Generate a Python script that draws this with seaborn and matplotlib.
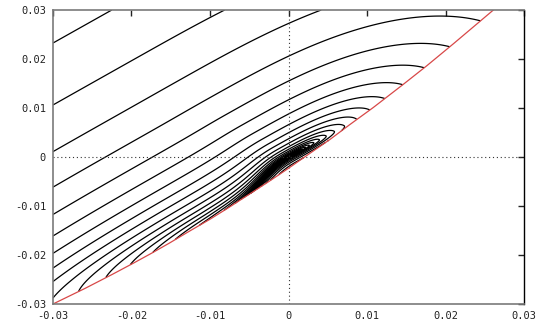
import numpy as np
import matplotlib
matplotlib.use("Agg")
import matplotlib.pyplot as plt
import seaborn as sns

# boundary curve (red)
red_x = [-0.0300, -0.0259, -0.0225, -0.0198, -0.0174, -0.0151, -0.0129, -0.0100,
         -0.0075, -0.0050, -0.0025, 0.0000, 0.0025, 0.0053, 0.0078, 0.0108,
         0.0146, 0.0176, 0.0210, 0.0244, 0.0261]
red_y = [-0.0300, -0.0268, -0.0240, -0.0217, -0.0196, -0.0175, -0.0154, -0.0127,
         -0.0102, -0.0076, -0.0050, -0.0023, 0.0005, 0.0036, 0.0066, 0.0101,
         0.0148, 0.0186, 0.0231, 0.0277, 0.0300]

# contour levels (geometric spacing as seen in the picture)
levels = [0.0204, 0.0273, 0.0364, 0.0486, 0.0649, 0.0866, 0.116, 0.154, 0.206,
          0.275, 0.367, 0.490, 0.654, 0.873, 1.166, 1.556, 2.078, 2.774, 3.703,
          4.944, 6.60, 8.81, 11.76, 15.70, 20.96, 27.98, 37.36]

tick_vals = [-0.03, -0.02, -0.01, 0.0, 0.01, 0.02, 0.03]
tick_labels = ["-0.03", "-0.02", "-0.01", "0", "0.01", "0.02", "0.03"]

# surface shape parameters
axis_slope = 0.9
left_scale, left_pow, left_norm = 29.0, 2.46, 1.5
right_scale, right_pow = 5.8, 1.47
ridge_gap = 1.0
ridge_blend = 8.0
ridge_decay = 5.0
below_factor = 2.0

sns.set_style("white")
plt.rcParams["font.family"] = ["DejaVu Sans Mono", "DejaVu Sans"]

fig = plt.figure(figsize=(5.45, 3.27), dpi=100)
ax = fig.add_axes([53 / 545, 23 / 327, 471 / 545, 294 / 327])

th = np.arctan(axis_slope)
cs, sn = np.cos(th), np.sin(th)


def to_uv(x, y):
    return (x * cs + y * sn) * 1000, (-x * sn + y * cs) * 1000


n = 1400
gx = np.linspace(-0.03, 0.03, n)
X, Y = np.meshgrid(gx, gx)
U, V = to_uv(X, Y)

ru, rv = to_uv(np.array(red_x), np.array(red_y))
order = np.argsort(ru)
v_red = np.interp(U, ru[order], rv[order])
blend = np.where(U < 0, 1 - np.exp(-(U / ridge_blend) ** 2), 0.0)
ridge = (v_red - ridge_gap) * blend
D = V - ridge
H = np.where(D > 0, V - ridge * np.exp(-np.maximum(D, 0) / ridge_decay),
             below_factor * np.abs(D))
W = np.where(U < 0, (np.abs(U) / left_scale) ** left_pow,
             (np.abs(U) / right_scale) ** right_pow)
Z = np.where(U < 0, (W ** left_norm + H ** left_norm) ** (1 / left_norm),
             np.sqrt(W ** 2 + H ** 2))
Z[Y < np.interp(X, red_x, red_y)] = np.nan

ax.contour(X, Y, Z, levels=levels, colors="black", linewidths=0.9)

ax.axhline(0, color="#333333", lw=0.8, ls=(0, (1, 2.5)))
ax.axvline(0, color="#333333", lw=0.8, ls=(0, (1, 2.5)))

sns.lineplot(x=red_x, y=red_y, sort=False, color="#d84848", lw=0.9, ax=ax, estimator=None)

ax.set_xlim(-0.03, 0.03)
ax.set_ylim(-0.03, 0.03)
ax.set_xticks(tick_vals)
ax.set_xticklabels(tick_labels)
ax.set_yticks(tick_vals)
ax.set_yticklabels(tick_labels)
ax.tick_params(direction="in", length=4, width=1, labelsize=7.5, pad=5,
               top=True, right=True, colors="#222222")
for s in ["left", "bottom", "top"]:
    ax.spines[s].set_color("#7a7a7a")
    ax.spines[s].set_linewidth(1.2)
ax.spines["right"].set_color("black")
ax.spines["right"].set_linewidth(1.0)

fig.savefig("out.png", dpi=100)
